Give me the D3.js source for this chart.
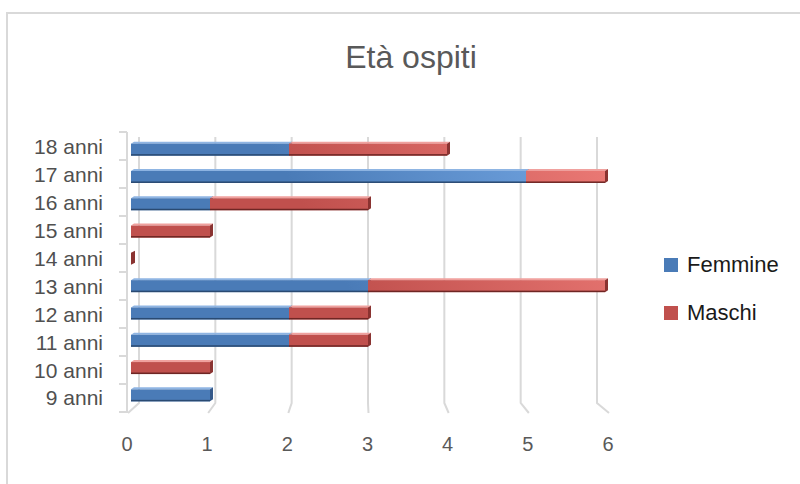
<!DOCTYPE html>
<html>
<head>
<meta charset="utf-8">
<script src="https://cdn.jsdelivr.net/npm/d3@7"></script>
<style>
  html, body { margin: 0; padding: 0; background: #fff; }
  svg { display: block; }
  text { font-family: "Liberation Sans", Arial, sans-serif; }
</style>
</head>
<body>
<svg id="chart" width="800" height="484"></svg>
<script>
// data
var categories = ['9 anni', '10 anni', '11 anni', '12 anni', '13 anni',
                  '14 anni', '15 anni', '16 anni', '17 anni', '18 anni'];
var femmine = [1, 0, 2, 2, 3, 0, 0, 1, 5, 2];
var maschi  = [0, 1, 1, 1, 3, 0, 1, 2, 1, 2];
var seriesNames = ['Femmine', 'Maschi'];
var xTicks = [0, 1, 2, 3, 4, 5, 6];

var palette = {
  Femmine: { dark: '#4a7bb7', light: '#74a7e4', top: '#8fb5e3', side: '#35598a', edge: '#2a4a72' },
  Maschi:  { dark: '#c0504d', light: '#ec7a76', top: '#f0a19e', side: '#8a3331', edge: '#6e2624' }
};

var svg = d3.select('#chart');

// outer frame (cut by the window on the right and bottom)
svg.append('rect')
  .attr('x', 7).attr('y', 13)
  .attr('width', 820).attr('height', 500)
  .attr('fill', 'none')
  .attr('stroke', '#d9d9d9')
  .attr('stroke-width', 2);

svg.append('text')
  .attr('x', 411).attr('y', 68)
  .attr('text-anchor', 'middle')
  .attr('font-size', 32)
  .attr('fill', '#595959')
  .text('Età ospiti');

// three x scales: bars (front plane), back wall gridlines, floor front edge
var xBar = d3.scaleLinear().domain([0, 6]).range([131, 605]),
    xBack = d3.scaleLinear().domain([0, 6]).range([139, 597]),
    xFront = d3.scaleLinear().domain([0, 6]).range([128, 609]);

var rows = categories.slice().reverse();
var yBar = d3.scaleBand().domain(rows).range([135, 408]),
    yLabel = d3.scaleBand().domain(rows).range([133, 412]),
    yWall = d3.scaleBand().domain(rows).range([132, 412]);

var gridTop = 137, gridBottom = 403, floorY = 413;

// gridlines on the back wall with their floor feet
var grid = svg.append('g')
  .attr('fill', 'none')
  .attr('stroke', '#d9d9d9')
  .attr('stroke-width', 2);
grid.selectAll('path')
  .data(xTicks)
  .join('path')
  .attr('d', function(d) {
    return 'M' + xBack(d) + ',' + gridTop + 'V' + gridBottom +
           'L' + xFront(d) + ',' + floorY;
  });

// left wall line with category ticks
var wall = svg.append('g')
  .attr('fill', 'none')
  .attr('stroke', '#d9d9d9')
  .attr('stroke-width', 2);
wall.append('path').attr('d', 'M127,132V413');
var bounds = rows.map(function(r) { return yWall(r); }).concat([412]);
wall.selectAll('path.tick')
  .data(bounds)
  .join('path')
  .attr('class', 'tick')
  .attr('d', function(d) { return 'M119,' + d + 'H127'; });

// gradients, lighter towards the upper right
var defs = svg.append('defs');
seriesNames.forEach(function(name) {
  var g = defs.append('linearGradient')
    .attr('id', 'grad-' + name)
    .attr('gradientUnits', 'userSpaceOnUse')
    .attr('x1', 131).attr('y1', 400)
    .attr('x2', 606).attr('y2', 140);
  g.append('stop').attr('offset', '0%').attr('stop-color', palette[name].dark);
  g.append('stop').attr('offset', '45%').attr('stop-color', palette[name].dark);
  g.append('stop').attr('offset', '100%').attr('stop-color', palette[name].light);
});

// stack the two series
var table = categories.map(function(c, i) {
  return { cat: c, Femmine: femmine[i], Maschi: maschi[i] };
});
var stacked = d3.stack().keys(seriesNames)(table);

var depthX = 3, depthY = -2, frontH = 12;

var bars = svg.append('g');
stacked.forEach(function(layer) {
  var name = layer.key, col = palette[name];
  var g = bars.append('g');
  layer.forEach(function(seg) {
    var row = seg.data;
    var total = row.Femmine + row.Maschi;
    var w = seg[1] - seg[0];
    // empty rows show only the end face of the last series
    if (w === 0 && !(total === 0 && name === 'Maschi')) return;
    var x0 = xBar(seg[0]), x1 = xBar(seg[1]);
    var yc = yBar(row.cat) + yBar.bandwidth() / 2;
    var yt = yc - frontH / 2 + 1, yb = yt + frontH;
    var sx = w === 0 ? depthX + 1 : depthX;
    // top face
    g.append('path')
      .attr('d', 'M' + x0 + ',' + yt + 'L' + x1 + ',' + yt +
                 'L' + (x1 + depthX) + ',' + (yt + depthY) +
                 'L' + (x0 + depthX) + ',' + (yt + depthY) + 'Z')
      .attr('fill', col.top);
    // front face
    if (w > 0) {
      g.append('rect')
        .attr('x', x0).attr('y', yt)
        .attr('width', x1 - x0).attr('height', frontH)
        .attr('fill', 'url(#grad-' + name + ')');
      g.append('rect')
        .attr('x', x0).attr('y', yb - 1.5)
        .attr('width', x1 - x0).attr('height', 1.5)
        .attr('fill', col.edge);
    }
    // end face
    g.append('path')
      .attr('d', 'M' + x1 + ',' + yt +
                 'L' + (x1 + sx) + ',' + (yt + depthY) +
                 'L' + (x1 + sx) + ',' + (yb + depthY) +
                 'L' + x1 + ',' + yb + 'Z')
      .attr('fill', col.side);
  });
});

// category labels
svg.append('g')
  .selectAll('text')
  .data(rows)
  .join('text')
  .attr('x', 103)
  .attr('y', function(d) { return yLabel(d) + yLabel.bandwidth() / 2; })
  .attr('dy', '0.35em')
  .attr('text-anchor', 'end')
  .attr('font-size', 21)
  .attr('fill', '#505050')
  .text(function(d) { return d; });

// value axis labels
svg.append('g')
  .selectAll('text')
  .data(xTicks)
  .join('text')
  .attr('x', function(d) { return xFront(d) - 1; })
  .attr('y', 451)
  .attr('text-anchor', 'middle')
  .attr('font-size', 20)
  .attr('fill', '#595959')
  .text(function(d) { return d; });

// legend
var legend = svg.append('g')
  .selectAll('g')
  .data(seriesNames)
  .join('g')
  .attr('transform', function(d, i) { return 'translate(664,' + (258 + i * 48) + ')'; });
legend.append('rect')
  .attr('width', 14).attr('height', 14)
  .attr('fill', function(d) { return palette[d].dark; });
legend.append('text')
  .attr('x', 23).attr('y', 14)
  .attr('font-size', 22)
  .attr('fill', '#1a1a1a')
  .text(function(d) { return d; });
</script>
</body>
</html>
